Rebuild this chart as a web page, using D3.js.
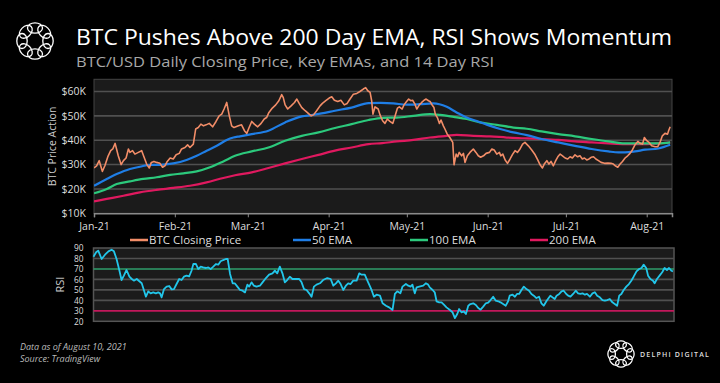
<!DOCTYPE html>
<html><head><meta charset="utf-8">
<script src="https://cdn.jsdelivr.net/npm/d3@7"></script>
<style>
html,body{margin:0;padding:0;background:#000;}
svg{display:block;}
text{font-family:"Open Sans",sans-serif;}
</style></head><body>
<svg id="c" width="720" height="383"></svg>
<script>
// ---------- DATA (day offset from 2021-01-01, value) ----------
const priceTicks = [10, 20, 30, 40, 50, 60];           // $K
const rsiTicks = [20, 30, 40, 50, 60, 70, 80, 90];
const monthLabels = ["Jan-21","Feb-21","Mar-21","Apr-21","May-21","Jun-21","Jul-21","Aug-21"];
const legendLabels = ["BTC Closing Price","50 EMA","100 EMA","200 EMA"];

const priceDays = [0,1,2,3.2,4.2,5.4,6.4,7.2,8.1,9.3,10.4,11.3,12.3,13.2,13.8,14.8,15.7,17,18.3,19,20.2,21.2,22,23,24,25.3,26.3,27.2,28.1,29.2,30.4,31.5,32.7,33.6,34.9,35.9,36.8,38.1,39,40,41,42,43,44.2,45.5,46.8,48,49,49.9,50.9,51.9,52.8,53.7,55.4,56.6,57.7,58.6,59.5,60.5,61.5,62.8,64.1,65.3,66.2,67.1,68.4,69.7,70.9,72,72.6,73.3,74.3,75.6,76.9,77.8,78.7,79.7,81,82.2,83.3,84.2,85.4,86.7,87.6,88.9,90.2,91.2,92.2,93.5,94.7,96,97.1,98.2,99.5,100.8,102,103.3,104.2,105,105.9,106.5,107,107.8,109,109.7,110.7,111.6,112.5,113.5,114.6,115.5,116.4,117.1,118.2,118.9,119.9,120.7,121.5,122.2,123.1,123.8,124.8,125.7,126.6,127.4,128.3,128.9,129.9,130.4,130.9,131.7,132.5,133.1,134,134.6,135.5,136.6,137.6,138.1,138.9,139.5,140.1,141,141.7,142.3,143.2,144.2,145.5,146.5,147.4,148.3,149.4,150.4,151.7,152.6,153.5,154.5,155.5,156,156.8,157.7,158.6,159.6,160.6,161.5,162.4,163.4,164.4,165.3,166.6,167.9,169.2,170.2,171.1,172,172.7,173.7,174.5,175.3,176.2,177.1,177.9,178.8,179.7,180.7,181.7,182.6,183.5,184.5,185.5,186.4,187.3,188.1,189,189.9,190.7,191.6,192.5,193.5,194.5,195.8,197.1,198.3,199.2,200.1,200.9,201.8,202.7,203.7,204.7,205.6,206.5,207.5,208.6,209.5,210.4,211.1,212,212.9,213.9,215.2,216.2,217.1,218,219,220,220.4,221];
const priceValues = [28.6,29.5,31.6,27.2,29.6,33.5,35.7,36.4,38.7,33.6,30.0,31.6,32.7,36.4,35.0,35.7,34.3,35,35.7,33.6,30.2,28.6,30.9,31.3,30.9,30.5,28.9,29.5,31.3,32.7,32.3,34,34.6,36.4,37,38.1,37,38.4,44.6,45.2,46.6,45.9,46.3,46.9,45.5,47.7,50,50.7,52.8,55.5,50,45.9,45.2,45.9,46.3,43.9,42.8,45.2,47.7,46.6,45.5,46.9,48.7,49.3,51.4,53.2,54.5,56.2,58.7,57.5,54.5,52.8,54.1,55.5,56.9,55.1,53.4,52.1,51,50,50.4,52.1,54.1,55.1,56.2,57.3,57.8,56.4,55.9,56.4,54.5,55.1,56.9,58.9,59.2,60,61,61.6,60.3,59.6,56.2,50.7,53.7,52.8,50.4,48,46.9,48.7,47.7,46.9,50,53.2,53.7,52.8,54.5,55.9,56.9,56.2,56.4,54.8,52.8,54.5,55.5,56.4,56.9,56.2,55.9,54.1,53.4,50.7,49.3,46.9,48.3,45.9,44.6,42.5,40.9,39.1,29.9,34.3,33.2,35,33.6,34.6,30.9,33.6,35,36.4,35,33.6,33,33.6,34.6,35,36.4,36,34.3,35,33.6,34.3,31.9,30.5,32.3,34.3,35.7,35,36.4,38.4,39.1,37.7,36,34,31.9,29.9,28.6,30.2,31.6,30.2,31.3,29.5,31.6,33.2,34.3,33.6,32.7,32.3,33.2,32.7,34,33.2,33.6,32.3,32.7,31.9,32.3,33,33.2,32.3,31.6,30.9,30.5,30.6,30.5,30.2,29.4,28.9,30.2,31.3,32.7,33.6,34.6,36,38.1,39.5,38.7,38.4,41.1,39.8,39.1,37.7,37.3,37.3,39.1,41.8,42.8,42.5,43.9,45.5];

const ema50Days = [0,4.9,8.7,13.8,17.6,21.5,25.3,30.4,35.5,39.4,43.2,47.1,50.9,53.5,56,60.5,66.9,73.3,79.7,83.5,87.3,92.4,98.8,105.3,110,114.8,119.9,125.1,130.2,135.3,139.1,142.9,146.8,150.6,155.8,160.9,166,171.7,178.1,184.5,190.9,197.3,201.2,203.7,207.5,211.4,216.5,221];
const ema50Values = [21.3,24.1,26.1,28.2,29.1,29.9,29.9,30.5,31.9,33.6,35.7,37.7,40.1,41.1,41.6,42.5,43.9,47.3,49.8,50.3,51,52.1,53.4,55.2,55.3,55.1,54.6,54.8,55.1,53.7,51.4,49.3,47.9,46.4,44.6,43.2,42.1,40.5,39.1,37.7,36.4,35.4,35,35,35.4,36.1,36.6,38.1];

const ema100Days = [0,4.9,8.7,13.8,18.9,24,29.2,34.3,39.4,44.5,49.6,54.1,60.5,66.9,73.3,79.7,86.1,92.4,98.8,105.3,111,116.1,122.5,128.9,132.8,137.9,143,148.1,154.5,160.9,166,171.7,178.1,184.5,190.9,197.3,203.7,210.1,216.5,221];
const ema100Values = [18.2,20,22,23.1,24.1,24.8,25.8,26.4,27.2,28.9,31.3,33.6,35.4,37,39.8,41.8,43.2,45,46.6,48.3,49.2,49.3,50,50.7,50.4,49.6,48.7,47.3,46.3,45.2,44.7,43.6,42.5,41.6,40.5,39.5,38.7,38.7,38.7,39.1];

const ema200Days = [0,4.9,11.3,17.6,24,30.4,36.8,43.2,49.6,54.1,60.5,66.9,73.3,79.7,86.1,92.4,98.8,105.3,110.5,116.1,122.5,128.9,135.3,139.1,145.5,151.9,158.3,165,171.7,178.1,184.5,190.9,197.3,203.7,210.1,216.5,221];
const ema200Values = [14.9,15.9,17.2,18.6,19.6,20.4,21.3,22.7,24.5,25.6,26.8,28.6,30.5,32.3,34,35.7,37,38.4,38.8,39.5,40.1,41.1,41.8,42.2,41.8,41.6,41.1,40.8,40.5,40.1,39.5,39.1,38.7,38.4,38.4,38.7,39];

const rsiDays = [0,1,1.8,3.1,4.4,5.7,6.9,7.8,8.8,9.9,10.7,11.6,12.6,13.7,14.6,15.4,16.5,17.5,18.4,19.3,20,20.9,21.8,22.8,23.8,24.7,25.4,26,26.9,27.9,28.9,29.8,30.7,31.7,32.7,33.6,34.5,35.5,36.5,37.4,38.1,39.1,40,40.9,41.9,42.9,43.8,44.7,45.7,46.7,47.6,48.5,49.5,50.5,51.2,52.1,53.1,53.9,54.9,55.9,56.9,57.8,58.7,59.4,60.3,61.2,62.2,63.5,64.5,65.8,67,68.3,69.2,70.1,71.1,72.1,73,73.9,74.9,75.9,77.2,78.5,79.4,80.3,81.3,82.3,83.2,84.1,85.1,86.4,87.6,89.2,90.5,91.5,92.5,93.4,94.3,95.3,96.3,97.2,98.1,99.1,100.4,101.4,102.3,103.5,104.8,106.1,107,108,109.3,110.3,111.6,112.8,114.1,115,115.9,117.1,117.9,119.2,120.1,121,121.7,122.6,123.3,124.3,125.8,126.8,127.7,128.3,129.4,130.2,130.9,131.9,132.8,133.7,134.7,136,137,137.9,138.8,139.5,140.4,141.3,142.1,143,143.8,144.9,145.9,146.8,147.7,148.7,149.7,150.6,151.5,152.5,153.5,154.4,155.3,156.3,157.3,158.2,158.8,159.9,160.8,161.6,162.4,163.3,164.2,165.2,166.2,167.1,168,169,170,170.9,171.8,172.8,173.4,174.3,175.1,176,176.7,177.7,178.6,179.4,180.4,181.1,182,183,184,184.9,185.8,186.6,187.5,188.3,189.4,190.4,191.3,192.2,193.2,194.2,195.1,196,197,198,198.9,199.8,200.6,201.4,202.3,203.3,204.3,205.2,206.1,207.2,208.2,209.1,209.9,210.9,211.6,212.5,213.5,214.1,215,216,217,217.9,218.8,219.6,220.5,221.1];
const rsiValues = [81.7,85.9,87.5,79.5,83.6,86.8,88.4,86.8,79.5,68.3,59.4,63.6,69,62.6,60.4,58.8,60.4,58.2,56.3,49.2,43.5,48.6,46.7,47.6,46.7,47.6,46.7,42.9,50.8,53.1,53.7,50.5,50.8,55.6,60.4,59.4,62.6,63.6,62.9,68.3,74.7,74.7,69.9,72.2,71.5,70.9,71.5,69.9,72.2,74.7,74.1,77.3,78.5,79.5,79.5,65.2,56.3,56.3,53.1,49.9,49.2,47.6,55,53.1,57.2,54,53.1,54,57.2,61.3,64.5,65.8,68.3,65.8,72.2,65.8,57.2,59.4,62.6,60.4,60.4,60.4,57.2,50.8,49.9,46.7,43.5,53.1,55,56.3,59.4,61.3,60.4,54,56.3,58.8,55.6,49.9,54,56.3,55.6,58.8,58.8,65.8,64.5,64.5,57.2,49.9,43.5,45.4,44.5,37.2,34.9,33.3,30.8,46.1,48.6,46.7,53.1,55.6,54,53.1,55,46.7,52.4,53.1,54,56.3,55,52.4,49.9,47.7,39.1,38.1,38.1,35.9,33.3,30.8,28.6,23.1,27,31.7,28.6,29.5,27,34.9,36.5,37.2,35.6,32.7,31.1,34,37.2,37.8,40.3,43.5,39.7,39.1,38.1,36.5,34.9,39.1,44.5,45.4,43.5,46.1,46.1,49.9,53.1,50.8,49.2,46.1,44.5,42.2,43.5,37.2,34.9,39.1,41.3,44.5,42.9,41.3,44.5,46.1,48.6,49.2,46.1,44.5,43.5,46.1,49.2,46.7,46.1,46.7,45.4,46.1,43.5,46.7,47.7,44.5,42.9,40.3,39.7,40.3,41.3,38.1,36.5,34.9,44.5,46.1,49.9,53.1,55.6,58.8,62.6,67.7,69.9,70.9,74.1,70.9,63.6,60.4,58.8,56.3,60.4,63.6,66.8,70.9,69,70.9,68.3,67.7];

// ---------- CHART ----------
const svg = d3.select("#c");
svg.append("rect").attr("width",720).attr("height",383).attr("fill","#000");

const base = new Date(2021,0,1);
const toDate = d => new Date(base.getTime() + d*864e5);
const zip = (ds, vs) => ds.map((d,i)=>({date:toDate(d), v:vs[i]}));

const xP = d3.scaleTime().domain([base, toDate(221.7)]).range([94,672]);
const yP = d3.scaleLinear().domain([10,65]).range([213.3,79.3]);
const xR = d3.scaleTime().domain([base, toDate(221.5)]).range([93.5,674]);
const yR = d3.scaleLinear().domain([20,90]).range([321.3,248]);
const axisFont = "Liberation Sans";

// logo
function logo(cx, cy, s){
  const g = svg.append("g").attr("transform",`translate(${cx},${cy}) scale(${s})`);
  for(let i=0;i<8;i++){
    const a = i*45;
    g.append("ellipse").attr("transform",`rotate(${a}) translate(0,-13)`)
      .attr("rx",7.5).attr("ry",5.2).attr("fill","none").attr("stroke","#fff").attr("stroke-width",1.3/s);
  }
}
logo(35,41,1);
logo(621,354,0.72);

// titles
svg.append("text").attr("x",76).attr("y",44.6).attr("fill","#fff").attr("font-size",22)
  .attr("font-family","Lato")
  .attr("textLength",596).attr("lengthAdjust","spacingAndGlyphs")
  .text("BTC Pushes Above 200 Day EMA, RSI Shows Momentum");
svg.append("text").attr("x",76).attr("y",66.6).attr("fill","#a8a8a8").attr("font-size",14.6)
  .attr("font-family","Lato")
  .attr("textLength",418).attr("lengthAdjust","spacingAndGlyphs")
  .text("BTC/USD Daily Closing Price, Key EMAs, and 14 Day RSI");

// price panel
svg.append("rect").attr("x",94).attr("y",79.3).attr("width",578).attr("height",134)
  .attr("fill","#1b1b1b").attr("stroke","#444").attr("stroke-width",1);
svg.append("g").selectAll("line").data(priceTicks.filter(t=>t>10)).join("line")
  .attr("x1",94).attr("x2",672).attr("y1",d=>yP(d)).attr("y2",d=>yP(d))
  .attr("stroke","#505050").attr("stroke-width",1.6);

const yAxP = svg.append("g").attr("transform","translate(94,0)")
  .call(d3.axisLeft(yP).tickValues(priceTicks).tickFormat(d=>`$${d}K`).tickSize(0).tickPadding(8));
yAxP.select(".domain").remove();
yAxP.selectAll("text").attr("fill","#ddd").attr("font-size",10.5).attr("font-family",axisFont);

const xAxP = svg.append("g").attr("transform","translate(0,213.3)")
  .call(d3.axisBottom(xP).ticks(d3.timeMonth.every(1)).tickFormat((d,i)=>monthLabels[i]).tickSize(4).tickPadding(5));
xAxP.select(".domain").attr("stroke","#8a8a8a").attr("stroke-width",1.5);
xAxP.selectAll("line").attr("stroke","#8a8a8a");
xAxP.selectAll("text").attr("fill","#ddd").attr("font-size",10.5).attr("font-family",axisFont);

svg.append("text").attr("transform","translate(56,146.5) rotate(-90)").attr("text-anchor","middle")
  .attr("fill","#ccc").attr("font-size",10.5).text("BTC Price Action");

// price lines
const lineP = d3.line().x(d=>xP(d.date)).y(d=>yP(d.v));
const lineS = d3.line().x(d=>xP(d.date)).y(d=>yP(d.v)).curve(d3.curveMonotoneX);
const colors = {price:"#f28d68", e50:"#1f7ee6", e100:"#2cc97c", e200:"#e0195f", rsi:"#22c6ea"};
svg.append("clipPath").attr("id","cp").append("rect").attr("x",94).attr("y",79.3).attr("width",578).attr("height",134);
const gP = svg.append("g").attr("clip-path","url(#cp)");
gP.append("path").datum(zip(ema200Days,ema200Values)).attr("d",lineS).attr("fill","none").attr("stroke",colors.e200).attr("stroke-width",2.2);
gP.append("path").datum(zip(ema100Days,ema100Values)).attr("d",lineS).attr("fill","none").attr("stroke",colors.e100).attr("stroke-width",2.2);
gP.append("path").datum(zip(ema50Days,ema50Values)).attr("d",lineS).attr("fill","none").attr("stroke",colors.e50).attr("stroke-width",2.2);
gP.append("path").datum(zip(priceDays,priceValues)).attr("d",lineP).attr("fill","none").attr("stroke",colors.price).attr("stroke-width",1.6).attr("stroke-linejoin","round");

// legend
const legX = [130,293,410,530];
const legC = [colors.price,colors.e50,colors.e100,colors.e200];
legendLabels.forEach((t,i)=>{
  svg.append("line").attr("x1",legX[i]).attr("x2",legX[i]+18).attr("y1",240).attr("y2",240)
    .attr("stroke",legC[i]).attr("stroke-width",2.5);
  svg.append("text").attr("x",legX[i]+19).attr("y",244.2).attr("fill","#ddd").attr("font-size",11.5)
    .attr("font-family","Lato").text(t);
});

// RSI panel
svg.append("rect").attr("x",93.5).attr("y",248).attr("width",580.5).attr("height",73.3)
  .attr("fill","#1b1b1b").attr("stroke","#555").attr("stroke-width",1.5);
svg.append("g").selectAll("line").data(rsiTicks.filter(t=>t>20&&t<90&&t!==70&&t!==30)).join("line")
  .attr("x1",93.5).attr("x2",674).attr("y1",d=>yR(d)).attr("y2",d=>yR(d))
  .attr("stroke","#505050").attr("stroke-width",1.6);
svg.append("line").attr("x1",93.5).attr("x2",674).attr("y1",yR(70)).attr("y2",yR(70)).attr("stroke","#2f9e6b").attr("stroke-width",1.6);
svg.append("line").attr("x1",93.5).attr("x2",674).attr("y1",yR(30)).attr("y2",yR(30)).attr("stroke","#c2185b").attr("stroke-width",1.8);

const yAxR = svg.append("g").attr("transform","translate(93.5,0)")
  .call(d3.axisLeft(yR).tickValues(rsiTicks).tickSize(0).tickPadding(10));
yAxR.select(".domain").remove();
yAxR.selectAll("text").attr("fill","#ddd").attr("font-size",8.4).attr("font-family","DejaVu Sans");
svg.append("text").attr("transform","translate(64,284.6) rotate(-90)").attr("text-anchor","middle")
  .attr("fill","#ccc").attr("font-size",11).text("RSI");

const lineR = d3.line().x(d=>xR(d.date)).y(d=>yR(d.v));
svg.append("path").datum(zip(rsiDays,rsiValues)).attr("d",lineR).attr("fill","none")
  .attr("stroke",colors.rsi).attr("stroke-width",1.8).attr("stroke-linejoin","round");

// footer
svg.append("text").attr("x",20).attr("y",350).attr("fill","#bbb").attr("font-size",9).attr("font-family","Lato").attr("font-style","italic").text("Data as of August 10, 2021");
svg.append("text").attr("x",20).attr("y",361.5).attr("fill","#bbb").attr("font-size",9).attr("font-family","Lato").attr("font-style","italic").text("Source:  TradingView");
svg.append("text").attr("x",640).attr("y",357).attr("fill","#ddd").attr("font-size",7).attr("font-weight",600).attr("letter-spacing",1.2).text("DELPHI DIGITAL");
</script>
</body></html>
